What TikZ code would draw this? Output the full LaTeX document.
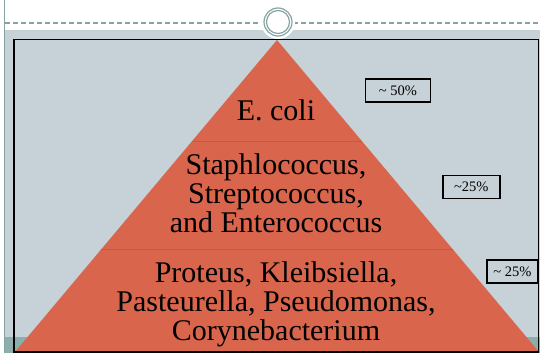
\documentclass[tikz,border=0pt]{standalone}
\usepackage{fontspec}
\setmainfont{Liberation Serif}
\usepackage{tikz}
\usetikzlibrary{calc}

\begin{document}
\begin{tikzpicture}[x=1pt, y=-1pt, every node/.style={inner sep=0pt, font=\fontsize{30}{29}\selectfont}, pct/.style={draw=black, line width=1.5pt, minimum height=23pt, font=\fontsize{14.5}{14.5}\selectfont}]

    % Definimos colores
    \definecolor{fondoG}{RGB}{198,209,216}  % gris azulado
    \definecolor{tejaP}{RGB}{217,101,76}    % naranja piramide
    \definecolor{verdeA}{RGB}{141,175,172}  % franja inferior
    \definecolor{lineaG}{RGB}{135,163,164}  % lineas finas

    \useasboundingbox (0,0) rectangle (540,353);

    % Fondo
    \fill[fondoG] (5,30) rectangle (540,353);
    \fill[verdeA] (5,337) rectangle (540,353);
    \draw[lineaG, line width=1.5pt] (4.5,0) -- (4.5,353);
    \draw[lineaG, line width=1.2pt, dash pattern=on 5pt off 3pt] (5,23) -- (540,23);

    % Circulo superior
    \coordinate (c) at (278,22);
    \fill[white] (c) circle (17pt);
    \draw[lineaG, line width=1.2pt] (c) circle (14pt);
    \draw[lineaG, line width=1.2pt] (c) circle (11.5pt);

    % Piramide
    \coordinate (A) at (277,40);
    \coordinate (L) at (15,352);
    \coordinate (R) at (539,352);
    \fill[tejaP] (A) -- (L) -- (R) -- cycle;
    \draw[tejaP!90!black, line width=1pt] ($(A)!0.326!(L)$) -- ($(A)!0.326!(R)$); % division 1
    \draw[tejaP!90!black, line width=1pt] ($(A)!0.67!(L)$) -- ($(A)!0.67!(R)$);   % division 2

    % Marco
    \draw[line width=1.8pt] (14,39.5) rectangle (538.5,352);

    % Textos de la piramide
    \node[anchor=base] (ecoli) at (276,120.7) {E. coli};
    \node[align=center] (cocos) at (276,193) {Staphlococcus,\\Streptococcus,\\and Enterococcus};
    \node[align=center] (bacilos) at (276,304) {Proteus, Kleibsiella,\\Pasteurella, Pseudomonas,\\Corynebacterium};

    % Porcentajes
    \node[pct, minimum width=65pt] (p50) at (398,90.3) {\textasciitilde{} 50\%};
    \node[pct, minimum width=57pt] (p25a) at (471.3,187) {\textasciitilde25\%};
    \node[pct, minimum width=51pt] (p25b) at (512.5,271.3) {\textasciitilde{} 25\%};

\end{tikzpicture}
\end{document}
